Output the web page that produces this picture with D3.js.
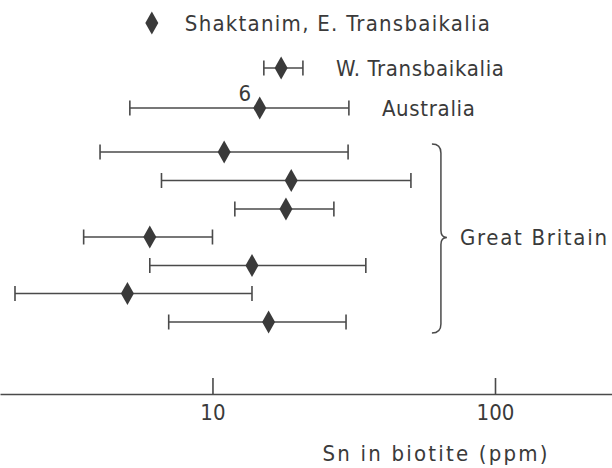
<!DOCTYPE html>
<html>
<head>
<meta charset="utf-8">
<script src="https://cdn.jsdelivr.net/npm/d3@7"></script>
<style>
  html, body { margin: 0; padding: 0; background: #fff; }
  svg text { font-family: "DejaVu Sans Condensed", "DejaVu Sans", sans-serif; fill: #3a3a3a; }
</style>
</head>
<body>
<svg id="chart" width="612" height="468"></svg>
<script>
// rows, top to bottom
const rowIds = ["shaktanim", "wtrans", "australia", "gb1", "gb2", "gb3", "gb4", "gb5", "gb6", "gb7"];
const rowLabels = ["Shaktanim,  E. Transbaikalia", "W. Transbaikalia", "Australia", "", "", "", "", "", "", ""];
const meanSn = [6.1, 17.5, 14.7, 11.0, 19.0, 18.2, 6.0, 13.8, 5.0, 15.8];
const minSn = [null, 15.2, 5.1, 4.0, 6.6, 12.0, 3.5, 6.0, 2.0, 7.0];
const maxSn = [null, 20.9, 30.4, 30.2, 50.4, 26.9, 10.0, 34.9, 13.8, 29.7];
const sampleCounts = [null, null, 6, null, null, null, null, null, null, null];
const groupRows = ["gb1", "gb2", "gb3", "gb4", "gb5", "gb6", "gb7"];
const groupLabel = "Great Britain";
const tickValues = [10, 100];
const tickLabels = ["10", "100"];
const axisTitle = "Sn in biotite (ppm)";

const width = 612, height = 468;
const axisY = 394;
const ink = "#3a3a3a";
const FS = 22;

const svg = d3.select("#chart");

const x = d3.scaleLog()
    .domain([1.77, 259.5])
    .range([0, width]);

const y = d3.scaleOrdinal()
    .domain(rowIds)
    .range([23, 68, 108, 152, 180.5, 209, 237, 265.5, 293.5, 322]);

const rows = rowIds.map((id, i) => ({
    id: id,
    label: rowLabels[i],
    mean: meanSn[i],
    lo: minSn[i],
    hi: maxSn[i],
    n: sampleCounts[i]
}));

const CAP = 7.5;
const DW = 6.5, DH = 11.5;

const marks = svg.append("g").attr("class", "marks");

// range bars
const ranged = rows.filter(d => d.lo != null);
marks.selectAll(".range")
    .data(ranged)
    .join("line")
    .attr("class", "range")
    .attr("x1", d => x(d.lo))
    .attr("x2", d => x(d.hi))
    .attr("y1", d => y(d.id))
    .attr("y2", d => y(d.id))
    .attr("stroke", "#4a4a4a")
    .attr("stroke-width", 1.6);

marks.selectAll(".cap")
    .data(ranged.flatMap(d => [{id: d.id, v: d.lo}, {id: d.id, v: d.hi}]))
    .join("line")
    .attr("class", "cap")
    .attr("x1", d => x(d.v))
    .attr("x2", d => x(d.v))
    .attr("y1", d => y(d.id) - CAP)
    .attr("y2", d => y(d.id) + CAP)
    .attr("stroke", "#4a4a4a")
    .attr("stroke-width", 1.6);

// diamonds
marks.selectAll(".mean")
    .data(rows)
    .join("path")
    .attr("class", "mean")
    .attr("d", d => {
        const cx = x(d.mean), cy = y(d.id);
        return `M${cx},${cy - DH}L${cx + DW},${cy}L${cx},${cy + DH}L${cx - DW},${cy}Z`;
    })
    .attr("fill", ink);

// row labels
const labelWidths = {shaktanim: 305, wtrans: 168, australia: 93};
marks.selectAll(".row-label")
    .data(rows.filter(d => d.label))
    .join("text")
    .attr("class", "row-label")
    .attr("x", d => (d.hi != null ? x(d.hi) : x(d.mean)) + 33)
    .attr("y", d => y(d.id))
    .attr("dy", "0.36em")
    .attr("font-size", FS)
    .attr("textLength", d => labelWidths[d.id])
    .attr("lengthAdjust", "spacing")
    .text(d => d.label);

// sample counts
marks.selectAll(".count")
    .data(rows.filter(d => d.n != null))
    .join("text")
    .attr("class", "count")
    .attr("x", d => x(d.mean) - 15)
    .attr("y", d => y(d.id) - 15)
    .attr("dy", "0.36em")
    .attr("text-anchor", "middle")
    .attr("font-size", FS)
    .text(d => d.n);

// brace for grouped rows
const braceTop = y(groupRows[0]) - 8;
const braceBot = y(groupRows[groupRows.length - 1]) + 11;
const braceMid = (braceTop + braceBot) / 2 - 1;
const bx = x(maxSn[rowIds.indexOf("gb2")]) + 30;
svg.append("path")
    .attr("d", `M${bx - 9},${braceTop} Q${bx},${braceTop} ${bx},${braceTop + 9} L${bx},${braceMid - 7}
        Q${bx},${braceMid} ${bx + 6},${braceMid} Q${bx},${braceMid} ${bx},${braceMid + 7}
        L${bx},${braceBot - 9} Q${bx},${braceBot} ${bx - 9},${braceBot}`)
    .attr("fill", "none")
    .attr("stroke", "#4a4a4a")
    .attr("stroke-width", 1.5);

svg.append("text")
    .attr("x", bx + 19)
    .attr("y", braceMid)
    .attr("dy", "0.36em")
    .attr("font-size", FS)
    .attr("textLength", 147)
    .attr("lengthAdjust", "spacing")
    .text(groupLabel);

// axis
const axis = d3.axisBottom(x)
    .tickValues(tickValues)
    .tickFormat((d, i) => tickLabels[i])
    .tickSizeInner(-16)
    .tickSizeOuter(0)
    .tickPadding(10);

const axisG = svg.append("g")
    .attr("transform", `translate(0,${axisY})`)
    .call(axis);

axisG.select(".domain").attr("stroke", "#4a4a4a").attr("stroke-width", 1.6);
axisG.selectAll(".tick line").attr("stroke", "#4a4a4a").attr("stroke-width", 1.6);
axisG.selectAll(".tick text")
    .attr("font-size", FS)
    .attr("font-family", "DejaVu Sans Condensed, DejaVu Sans, sans-serif")
    .attr("fill", ink);

svg.append("text")
    .attr("x", 435)
    .attr("y", 453)
    .attr("dy", "0.36em")
    .attr("text-anchor", "middle")
    .attr("font-size", FS)
    .attr("textLength", 225)
    .attr("lengthAdjust", "spacing")
    .text(axisTitle);
</script>
</body>
</html>
